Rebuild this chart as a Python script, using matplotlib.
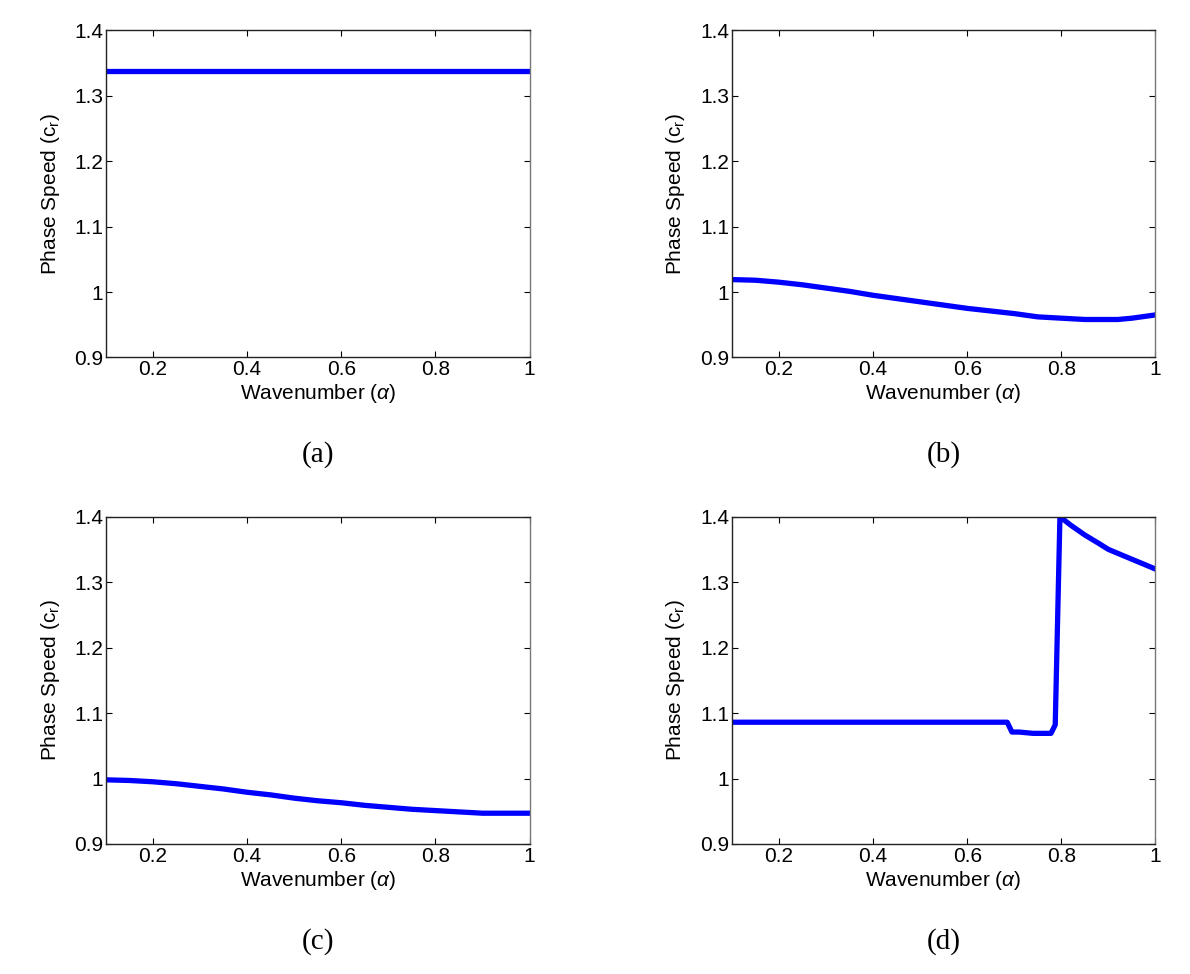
import matplotlib.pyplot as plt

plt.rcParams['font.family'] = ['Liberation Sans', 'DejaVu Sans']
plt.rcParams['mathtext.fontset'] = 'custom'
plt.rcParams['mathtext.rm'] = 'Liberation Sans'
plt.rcParams['mathtext.it'] = 'Liberation Sans:italic'

# panel (a): constant phase speed
a_x = [0.1, 1.0]
a_y = [1.338, 1.338]

# panel (b)
b_x = [0.1, 0.15, 0.2, 0.25, 0.3, 0.35, 0.4, 0.45, 0.5, 0.55, 0.6, 0.65, 0.7, 0.75,
       0.8, 0.85, 0.9, 0.92, 0.95, 1.0]
b_y = [1.019, 1.018, 1.015, 1.011, 1.006, 1.001, 0.995, 0.990, 0.985, 0.980, 0.975,
       0.971, 0.967, 0.962, 0.960, 0.958, 0.958, 0.958, 0.960, 0.965]

# panel (c)
c_x = [0.1, 0.15, 0.2, 0.25, 0.3, 0.35, 0.4, 0.45, 0.5, 0.55, 0.6, 0.65, 0.7, 0.75,
       0.8, 0.85, 0.9, 0.95, 1.0]
c_y = [0.998, 0.997, 0.995, 0.992, 0.988, 0.984, 0.979, 0.975, 0.970, 0.966, 0.963,
       0.959, 0.956, 0.953, 0.951, 0.949, 0.947, 0.947, 0.947]

# panel (d)
d_x = [0.1, 0.685, 0.695, 0.71, 0.74, 0.778, 0.787, 0.797, 0.82, 0.85, 0.88, 0.9,
       0.93, 0.96, 1.0]
d_y = [1.086, 1.086, 1.071, 1.071, 1.069, 1.069, 1.082, 1.400, 1.387, 1.372, 1.359,
       1.350, 1.341, 1.332, 1.320]

panels = [(a_x, a_y, '(a)'), (b_x, b_y, '(b)'), (c_x, c_y, '(c)'), (d_x, d_y, '(d)')]
xticks = [0.2, 0.4, 0.6, 0.8, 1]
xtick_labels = ['0.2', '0.4', '0.6', '0.8', '1']
yticks = [0.9, 1.0, 1.1, 1.2, 1.3, 1.4]
ytick_labels = ['0.9', '1', '1.1', '1.2', '1.3', '1.4']

fig = plt.figure(figsize=(11.9, 9.74), dpi=100)
lefts = [0.089, 0.615]
bottoms = [0.633, 0.1335]
w, h = 0.356, 0.336

for i, (xs, ys, tag) in enumerate(panels):
    left = lefts[i % 2]
    bottom = bottoms[i // 2]
    ax = fig.add_axes([left, bottom, w, h])
    ax.plot(xs, ys, color='#0000ff', lw=3.8, solid_joinstyle='round')
    ax.set_xlim(0.1, 1)
    ax.set_ylim(0.9, 1.4)
    ax.set_xticks(xticks)
    ax.set_xticklabels(xtick_labels)
    ax.set_yticks(yticks)
    ax.set_yticklabels(ytick_labels)
    ax.tick_params(direction='in', length=4, width=0.8, labelsize=15,
                   top=True, right=True, pad=2)
    for s in ax.spines.values():
        s.set_linewidth(1.0)
        s.set_color('#222222')
    ax.spines['right'].set_color('#777777')
    ax.set_xlabel(r'Wavenumber ($\alpha$)', fontsize=15, labelpad=2)
    ax.set_ylabel(r'Phase Speed (c$_\mathrm{r}$)', fontsize=15, labelpad=9)
    fig.text(left + w / 2, bottom - 0.1, tag, ha='center', va='center',
             fontsize=21, family=['Liberation Serif', 'DejaVu Serif'])

fig.savefig('out.png', dpi=100)
